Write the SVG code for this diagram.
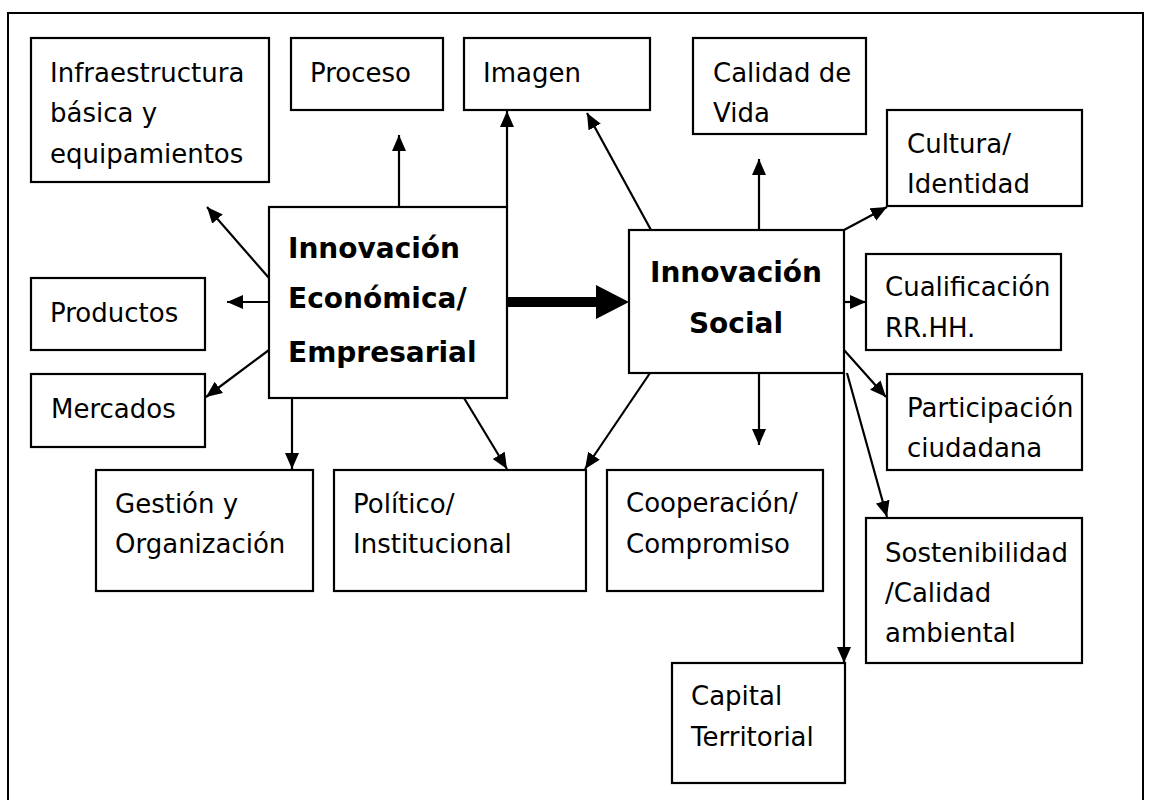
<svg xmlns="http://www.w3.org/2000/svg" width="1151" height="800" viewBox="0 0 1151 800">
<style>
.box{fill:#fff;stroke:#000;stroke-width:2.2}
.t{font-family:"DejaVu Sans",sans-serif;font-size:26px;fill:#000}
.b{font-family:"DejaVu Sans",sans-serif;font-size:28px;font-weight:bold;fill:#000}
.c{stroke:#000;stroke-width:2.2;fill:none;marker-end:url(#ah)}
</style>
<defs>
<marker id="ah" markerUnits="userSpaceOnUse" markerWidth="17" markerHeight="15" refX="16" refY="7" orient="auto">
<path d="M0,0 L16,7 L0,14 z" fill="#000"/>
</marker>
</defs>
<rect x="0" y="0" width="1151" height="800" fill="#fff"/>
<rect x="8" y="13" width="1135" height="800" fill="none" stroke="#000" stroke-width="2"/>

<g id="connectors">
<line class="c" x1="269" y1="278" x2="207" y2="207"/>
<line class="c" x1="399" y1="207" x2="399" y2="135"/>
<line class="c" x1="507" y1="207" x2="507" y2="111"/>
<line class="c" x1="269" y1="302" x2="227" y2="302"/>
<line class="c" x1="269" y1="350" x2="206" y2="397"/>
<line class="c" x1="292" y1="398" x2="292" y2="469"/>
<line class="c" x1="464" y1="398" x2="507" y2="469"/>
<path d="M507,297 H596 V285 L629,302 L596,319 V307 H507 Z" fill="#000"/>
<line class="c" x1="651" y1="230" x2="587" y2="113"/>
<line class="c" x1="759" y1="230" x2="759" y2="159"/>
<line class="c" x1="844" y1="230" x2="887" y2="207"/>
<line class="c" x1="844" y1="302" x2="866" y2="302"/>
<line class="c" x1="844" y1="350" x2="886" y2="397"/>
<line class="c" x1="650" y1="373" x2="585" y2="469"/>
<line class="c" x1="759" y1="373" x2="759" y2="445"/>
<line class="c" x1="844" y1="373" x2="844" y2="663"/>
<line class="c" x1="847" y1="373" x2="887" y2="517"/>
</g>

<g id="infraestructura">
<rect class="box" x="31" y="38" width="238" height="144"/>
<text class="t" x="50" y="82">Infraestructura</text>
<text class="t" x="50" y="122">básica y</text>
<text class="t" x="50" y="163">equipamientos</text>
</g>
<g id="proceso">
<rect class="box" x="291" y="38" width="152" height="72"/>
<text class="t" x="310" y="82">Proceso</text>
</g>
<g id="imagen">
<rect class="box" x="464" y="38" width="186" height="72"/>
<text class="t" x="483" y="82">Imagen</text>
</g>
<g id="calidad-vida">
<rect class="box" x="693" y="38" width="173" height="96"/>
<text class="t" x="713" y="82">Calidad de</text>
<text class="t" x="713" y="122">Vida</text>
</g>
<g id="cultura">
<rect class="box" x="887" y="110" width="195" height="96"/>
<text class="t" x="907" y="153">Cultura/</text>
<text class="t" x="907" y="193">Identidad</text>
</g>
<g id="innovacion-economica">
<rect class="box" x="269" y="207" width="238" height="191"/>
<text class="b" x="288" y="258">Innovación</text>
<text class="b" x="288" y="308">Económica/</text>
<text class="b" x="288" y="362">Empresarial</text>
</g>
<g id="innovacion-social">
<rect class="box" x="629" y="230" width="215" height="143"/>
<text class="b" x="736" y="282" text-anchor="middle">Innovación</text>
<text class="b" x="736" y="333" text-anchor="middle">Social</text>
</g>
<g id="cualificacion">
<rect class="box" x="866" y="254" width="195" height="96"/>
<text class="t" x="885" y="296">Cualificación</text>
<text class="t" x="885" y="337">RR.HH.</text>
</g>
<g id="productos">
<rect class="box" x="31" y="278" width="174" height="72"/>
<text class="t" x="50" y="322">Productos</text>
</g>
<g id="mercados">
<rect class="box" x="31" y="374" width="174" height="73"/>
<text class="t" x="51" y="418">Mercados</text>
</g>
<g id="participacion">
<rect class="box" x="887" y="374" width="195" height="96"/>
<text class="t" x="907" y="417">Participación</text>
<text class="t" x="907" y="457">ciudadana</text>
</g>
<g id="gestion">
<rect class="box" x="96" y="470" width="217" height="121"/>
<text class="t" x="115" y="513">Gestión y</text>
<text class="t" x="115" y="553">Organización</text>
</g>
<g id="politico">
<rect class="box" x="334" y="470" width="252" height="121"/>
<text class="t" x="353" y="513">Político/</text>
<text class="t" x="353" y="553">Institucional</text>
</g>
<g id="cooperacion">
<rect class="box" x="607" y="470" width="216" height="121"/>
<text class="t" x="626" y="512">Cooperación/</text>
<text class="t" x="626" y="553">Compromiso</text>
</g>
<g id="sostenibilidad">
<rect class="box" x="866" y="518" width="216" height="145"/>
<text class="t" x="885" y="562">Sostenibilidad</text>
<text class="t" x="885" y="602">/Calidad</text>
<text class="t" x="885" y="642">ambiental</text>
</g>
<g id="capital">
<rect class="box" x="672" y="663" width="173" height="120"/>
<text class="t" x="691" y="705">Capital</text>
<text class="t" x="691" y="746">Territorial</text>
</g>
</svg>
